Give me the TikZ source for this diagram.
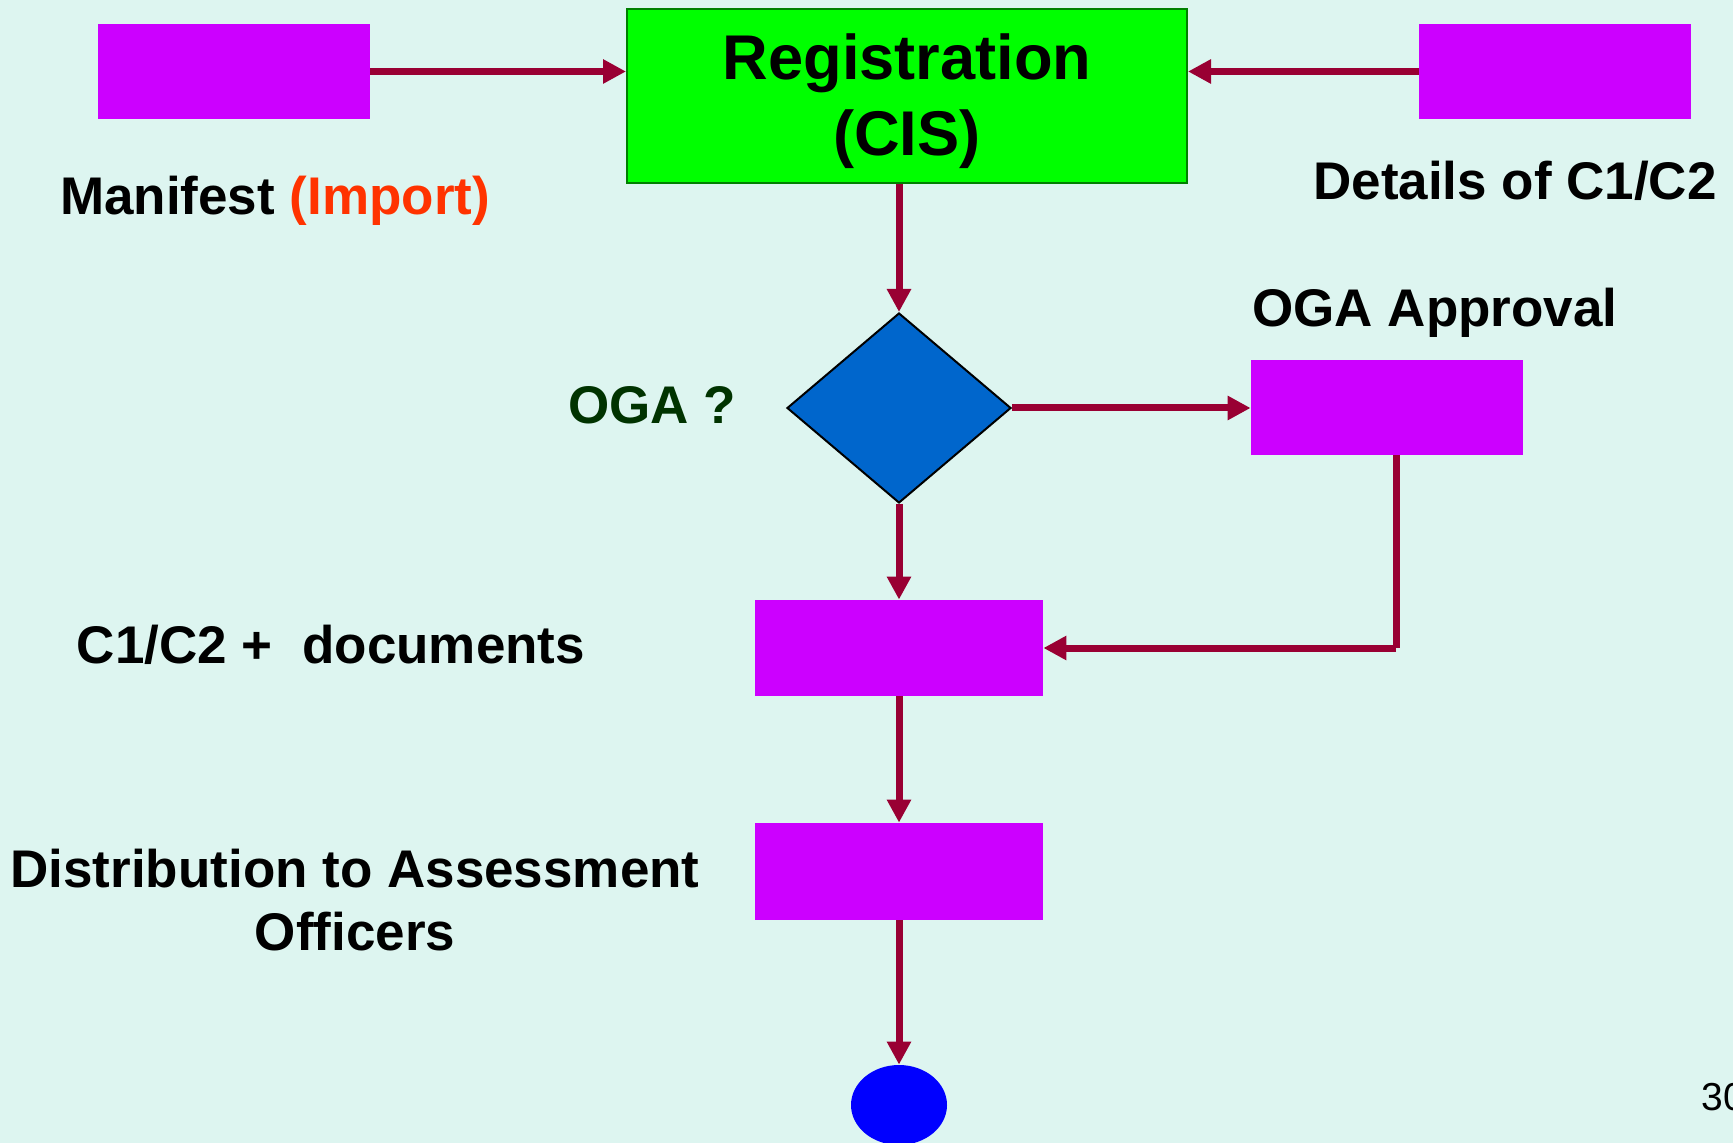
\documentclass[tikz,border=0pt]{standalone}
\usepackage{fontspec}
\setmainfont{Liberation Sans}
\usetikzlibrary{shapes.geometric,arrows.meta}
\definecolor{bg}{RGB}{221,245,240}
\definecolor{mag}{RGB}{204,0,255}
\definecolor{regfill}{RGB}{0,255,0}
\definecolor{regborder}{RGB}{0,128,0}
\definecolor{dia}{RGB}{0,102,204}
\definecolor{term}{RGB}{0,0,255}
\definecolor{arr}{RGB}{153,0,51}
\definecolor{imp}{RGB}{255,51,0}
\definecolor{ogagreen}{RGB}{0,51,0}
\tikzset{
  magbox/.style={rectangle, fill=mag, draw=none, inner sep=0pt, minimum width=136pt, minimum height=47.5pt},
  flow/.style={draw=arr, line width=3.5pt, -{Triangle[length=11.5pt,width=11.5pt]}},
  plainflow/.style={draw=arr, line width=3.5pt},
  lbl/.style={font=\fontsize{26.5pt}{31.8pt}\selectfont\bfseries, inner sep=0pt, align=center},
  regtext/.style={font=\fontsize{31.6pt}{38pt}\selectfont\bfseries, align=center, inner sep=0pt, yshift=-2.75pt},
}
\begin{document}
\begin{tikzpicture}[x=0.5pt,y=-0.5pt]
\path[fill=bg] (0,0) rectangle (1733,1143);
\useasboundingbox (0,0) rectangle (1733,1143);

\node[magbox] (man) at (234,71.5) {};
\node[rectangle, fill=regfill, draw=regborder, line width=1pt, minimum width=280pt, minimum height=87pt, inner sep=0pt,
      label={[regtext]center:Registration\\(CIS)}] (reg) at (907,96) {};
\node[magbox] (det) at (1555,71.5) {};
\node[diamond, fill=dia, draw=black, line width=1pt, minimum width=112pt, minimum height=95pt, inner sep=0pt] (dia) at (899,408) {};
\node[magbox] (oga) at (1387,407.5) {};
\node[magbox, minimum width=144pt, minimum height=48pt] (doc) at (899,648) {};
\node[magbox, minimum width=144pt, minimum height=48.5pt] (dist) at (899,871.5) {};
\node[ellipse, fill=term, draw=none, minimum width=48pt, minimum height=40pt, inner sep=0pt] (end) at (899,1105) {};

\coordinate (ogaout) at (1396,455);
\coordinate (ogacorner) at (1396,648);

\draw[flow] (man.east) -- (man.east -| reg.west);
\draw[flow] (det.west) -- (det.west -| reg.east);
\draw[flow] (reg.south -| dia.north) -- (dia.north);
\draw[flow] (dia.east) -- (dia.east -| oga.west);
\draw[flow] (dia.south) -- (doc.north);
\draw[plainflow] (ogaout) -- (ogacorner);
\draw[flow] (ogacorner) -- (doc.east);
\draw[flow] (doc.south) -- (dist.north);
\draw[flow] (dist.south) -- (end.north);

\node[lbl] (lman) at (275,201) {Manifest \textcolor{imp}{(Import)}};
\node[lbl] (ldet) at (1515,181) {Details of C1/C2};
\node[lbl] (loga) at (1435,313) {OGA Approval};
\node[lbl, text=ogagreen] (lq) at (652,405) {OGA ?};
\node[lbl] (ldoc) at (331,645) {C1/C2 +\ \ documents};
\node[lbl] (ldist) at (355,900) {Distribution to Assessment\\Officers};
\node[font=\fontsize{19.5pt}{23pt}\selectfont, anchor=west, inner sep=0pt] (pg) at (1701,1097) {30};
\end{tikzpicture}
\end{document}
